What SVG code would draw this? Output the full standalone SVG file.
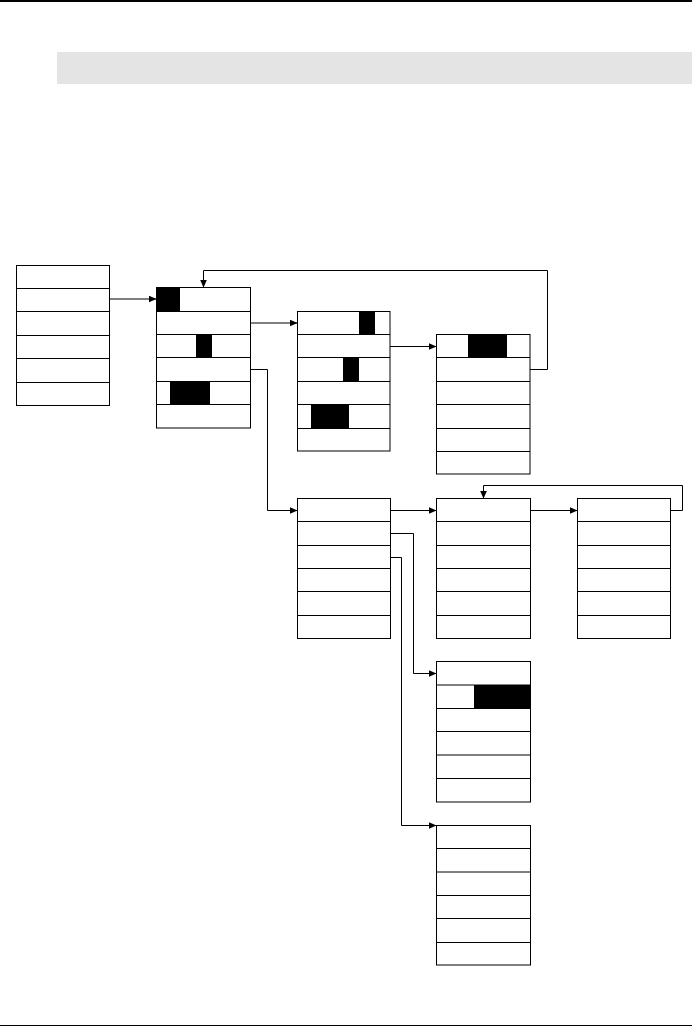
<svg xmlns="http://www.w3.org/2000/svg" width="692" height="1027" viewBox="0 0 692 1027">
<style>
.box{fill:#fff;stroke:#000;stroke-width:1}
.div{stroke:#000;stroke-width:1}
.blk{fill:#000;stroke:none}
.con{fill:none;stroke:#000;stroke-width:1}
</style>
<defs>
<marker id="ah" markerUnits="userSpaceOnUse" markerWidth="9" markerHeight="8" refX="8" refY="3.5" orient="auto">
<path d="M0,0 L8,3.5 L0,7 z" fill="#000"/>
</marker>
</defs>
<rect x="0" y="0" width="692" height="2" fill="#000"/>
<rect x="57" y="52" width="635" height="32" fill="#e4e4e4"/>
<rect x="0" y="1025" width="692" height="1" fill="#000"/>

<g id="nodeA">
<rect class="box" x="16.5" y="265.5" width="93" height="140"/>
<path class="div" d="M16.5,288.5H109.5M16.5,311.5H109.5M16.5,335.5H109.5M16.5,358.5H109.5M16.5,382.5H109.5"/>
</g>
<g id="nodeB">
<rect class="box" x="156.5" y="287.5" width="94" height="140.5"/>
<rect class="blk" x="156.5" y="287.5" width="23.5" height="24"/>
<rect class="blk" x="196" y="334.5" width="16" height="23"/>
<rect class="blk" x="170" y="381.5" width="40" height="23"/>
<path class="div" d="M156.5,311.5H250.5M156.5,334.5H250.5M156.5,357.5H250.5M156.5,381.5H250.5M156.5,404.5H250.5"/>
</g>
<g id="nodeC">
<rect class="box" x="297.5" y="311.5" width="92.5" height="139.5"/>
<rect class="blk" x="359" y="311.5" width="16" height="23"/>
<rect class="blk" x="343" y="357.5" width="16" height="24"/>
<rect class="blk" x="311" y="404.5" width="38" height="24"/>
<path class="div" d="M297.5,334.5H390M297.5,357.5H390M297.5,381.5H390M297.5,404.5H390M297.5,428.5H390"/>
</g>
<g id="nodeD">
<rect class="box" x="436.5" y="334.5" width="93.5" height="139.5"/>
<rect class="blk" x="468" y="334.5" width="39" height="23"/>
<path class="div" d="M436.5,357.5H530M436.5,381.5H530M436.5,404.5H530M436.5,428.5H530M436.5,451.5H530"/>
</g>
<g id="nodeE">
<rect class="box" x="297.5" y="498.5" width="93" height="140"/>
<path class="div" d="M297.5,521.5H390.5M297.5,545.5H390.5M297.5,568.5H390.5M297.5,591.5H390.5M297.5,615.5H390.5"/>
</g>
<g id="nodeF">
<rect class="box" x="436.5" y="498.5" width="94" height="140"/>
<path class="div" d="M436.5,521.5H530.5M436.5,545.5H530.5M436.5,568.5H530.5M436.5,591.5H530.5M436.5,615.5H530.5"/>
</g>
<g id="nodeG">
<rect class="box" x="577.5" y="498.5" width="93" height="140"/>
<path class="div" d="M577.5,521.5H670.5M577.5,545.5H670.5M577.5,568.5H670.5M577.5,591.5H670.5M577.5,615.5H670.5"/>
</g>
<g id="nodeH">
<rect class="box" x="436.5" y="661.5" width="94" height="140.5"/>
<rect class="blk" x="474" y="685" width="56.5" height="23"/>
<path class="div" d="M436.5,685H530.5M436.5,708.5H530.5M436.5,731.5H530.5M436.5,755H530.5M436.5,778.5H530.5"/>
</g>
<g id="nodeI">
<rect class="box" x="436.5" y="825.5" width="94" height="139.5"/>
<path class="div" d="M436.5,848.5H530.5M436.5,872H530.5M436.5,895.5H530.5M436.5,918.5H530.5M436.5,942.5H530.5"/>
</g>

<g id="connectors">
<path class="con" marker-end="url(#ah)" d="M109.5,299H156.5"/>
<path class="con" marker-end="url(#ah)" d="M250.5,323H297.5"/>
<path class="con" marker-end="url(#ah)" d="M390,346.5H436.5"/>
<path class="con" marker-end="url(#ah)" d="M530,369.5H547.5V270.5H203.5V287.5"/>
<path class="con" marker-end="url(#ah)" d="M250.5,369.5H267.5V510.5H297.5"/>
<path class="con" marker-end="url(#ah)" d="M390.5,510.5H436.5"/>
<path class="con" marker-end="url(#ah)" d="M530.5,510.5H577.5"/>
<path class="con" marker-end="url(#ah)" d="M670.5,510.5H682.5V485.5H483.5V498.5"/>
<path class="con" marker-end="url(#ah)" d="M390.5,533.5H413.5V673.5H436.5"/>
<path class="con" marker-end="url(#ah)" d="M390.5,557.5H401.5V825.5H436.5"/>
</g>
</svg>
